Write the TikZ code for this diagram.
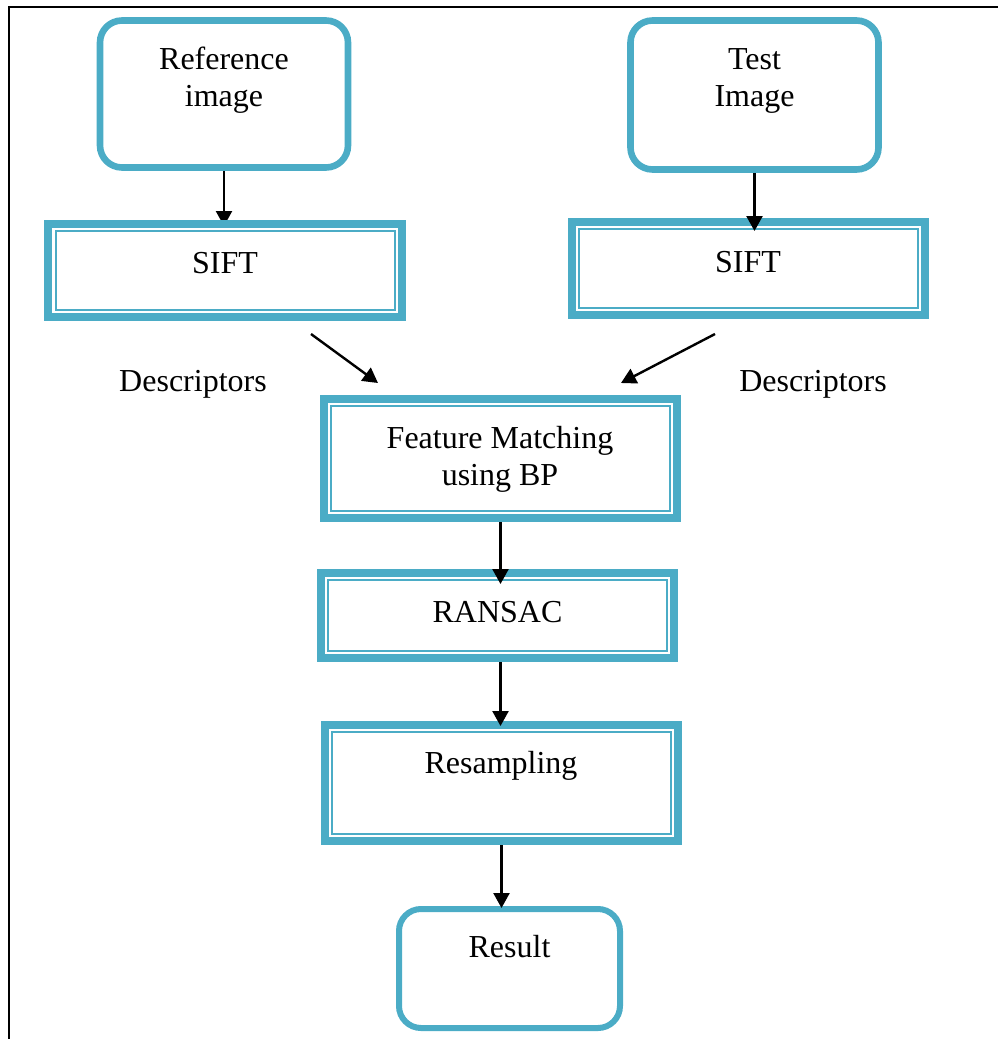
\documentclass[tikz,border=0pt]{standalone}
\usepackage{fontspec}
\setmainfont{Liberation Serif}
\usetikzlibrary{arrows.meta}
\definecolor{boxteal}{RGB}{75,172,198}
\begin{document}
\begin{tikzpicture}[x=0.5pt,y=-0.5pt,
  lbl/.style={font=\fontsize{16pt}{18.5pt}\selectfont, inner sep=0pt, align=center, anchor=base},
  roundbox/.style={draw=boxteal, line width=3.3pt, rounded corners=11pt, inner sep=0pt},
  dblbox/.style={draw=boxteal, line width=3.85pt, inner sep=0pt, minimum width=176.7pt,
    path picture={\draw[boxteal, line width=1pt]
      ([shift={(3.6pt,3.6pt)}]path picture bounding box.south west) rectangle
      ([shift={(-3.6pt,-3.6pt)}]path picture bounding box.north east);}},
  flow/.style={draw=black, line width=1.2pt, -{Triangle[length=7.5pt,width=8pt]}}
]
\useasboundingbox (0,0) rectangle (998,1039);

% page frame
\draw[line width=1pt] (9.3,1039) -- (9.3,6.7) -- (998,6.7);

% input images
\node[roundbox, minimum width=124pt, minimum height=73.5pt] (ref) at (224,94) {};
\node[roundbox, minimum width=124pt, minimum height=74.5pt] (test) at (754.5,95) {};

% the left SIFT box sits on top of the tip of its input arrow
\coordinate (refTip) at (224,226);
\draw[flow] (ref.south) -- (refTip);

% processing boxes
\node[dblbox, fill=white, minimum height=46.65pt] (siftL) at (225,270.5) {};
\node[dblbox, minimum height=46.65pt] (siftR) at (748.5,268.5) {};
\node[dblbox, minimum height=59.65pt] (fm) at (500.5,458.5) {};
\node[dblbox, minimum height=42.65pt] (rans) at (497.5,615.5) {};
\node[dblbox, minimum height=58.15pt] (resamp) at (501.5,783) {};
\node[roundbox, line width=3pt, minimum width=110.5pt, minimum height=59.5pt] (res) at (509.5,968.5) {};

% labels
\node[lbl] (reftxt) at (224,106) {Reference\\image};
\node[lbl] (testtxt) at (754.5,106) {Test\\Image};
\node[lbl] (siftLtxt) at (225,273) {SIFT};
\node[lbl] (siftRtxt) at (748,272) {SIFT};
\node[lbl] (descL) at (193,391) {Descriptors};
\node[lbl] (descR) at (813,391) {Descriptors};
\node[lbl] (fmtxt) at (500,485) {Feature Matching\\using BP};
\node[lbl] (ranstxt) at (497.5,622) {RANSAC};
\node[lbl] (resamptxt) at (501,773) {Resampling};
\node[lbl] (restxt) at (509.5,957) {Result};

% descriptor arrows
\coordinate (dLs) at (311,334);
\coordinate (dLe) at (378,383);
\coordinate (dRs) at (715,334);
\coordinate (dRe) at (621,383);

% connectors
\draw[flow, shorten >=-6.5pt] (test.south) -- (test.south |- siftR.north);
\draw[flow] (dLs) -- (dLe);
\draw[flow] (dRs) -- (dRe);
\draw[flow, shorten >=-7.5pt] (fm.south) -- (fm.south |- rans.north);
\draw[flow, shorten >=-2.5pt] (fm.south |- rans.south) -- (fm.south |- resamp.north);
\draw[flow, shorten >=-1pt] (resamp.south) -- (resamp.south |- res.north);
\end{tikzpicture}
\end{document}
